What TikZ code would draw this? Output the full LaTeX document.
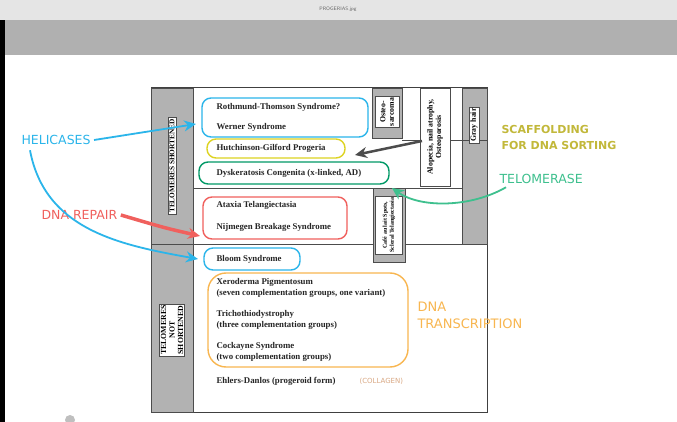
\documentclass[tikz,border=0pt]{standalone}
\usepackage{fontspec}
\setmainfont{Liberation Serif}
\newfontfamily\handfont{DejaVu Sans}
\usetikzlibrary{arrows.meta}
\definecolor{cyanhand}{HTML}{2bb5ea}
\definecolor{redhand}{HTML}{f0605d}
\definecolor{greenhand}{HTML}{3ec08e}
\definecolor{olivehand}{HTML}{c2b83a}
\definecolor{orangehand}{HTML}{f8b650}
\definecolor{colhand}{HTML}{d9a883}
\tikzset{
  pill/.style={draw, line width=1.4pt, rounded corners=9pt},
  txt/.style={font=\bfseries\fontsize{8.8}{10.5}\selectfont, anchor=west, align=left, text=black!85},
  side/.style={fill=black!30, draw=black!70, line width=0.9pt},
  tag/.style={fill=white, draw=black!70, rotate=90, font=\bfseries\fontsize{7.8}{8.5}\selectfont, inner sep=1.5pt, align=center},
  hand/.style={font=\handfont\fontsize{12.5}{14}\selectfont, anchor=west, align=left},
  harrow/.style={line width=1.8pt, -{Stealth[length=12pt,width=11pt]}},
}
\begin{document}
\begin{tikzpicture}[x=1pt, y=-1pt]
\useasboundingbox (0,0) rectangle (677,422);
% window
\fill[white] (0,0) rectangle (677,422);
\fill[black!10] (0,0) rectangle (677,20);
\fill[black!31] (0,20) rectangle (677,55);
\fill[black] (0,20) rectangle (5,422);
\node[font=\sffamily\fontsize{5}{6}\selectfont, text=black!60] (title) at (338,9) {PROGERIAS.jpg};
% frame
\draw[black!75, line width=1pt] (151,88) rectangle (487,412);
\draw[side] (151,88) rectangle (193,244);
\draw[side] (151,244) rectangle (193,412);
\draw[side] (462,88) rectangle (487,244);
\draw[black!70, line width=0.9pt] (193,188) -- (462,188);
\draw[black!70, line width=0.9pt] (193,244) -- (487,244);
\draw[black!70, line width=0.9pt] (402,140) -- (487,140);
\node[tag, font=\bfseries\fontsize{7.3}{8}\selectfont] (short) at (172,166) {TELOMERES SHORTENED};
\node[tag] (notshort) at (172,330) {TELOMERES\\NOT\\SHORTENED};
\node[tag] (gray) at (474,125) {Gray hair};
% symptom boxes
\draw[side] (372,88) rectangle (402,138);
\node[tag, minimum height=24pt] (osteo) at (387,112) {Osteo-\\sarcoma};
\draw[side, fill=white] (420,88) rectangle (450,186);
\node[rotate=90, font=\bfseries\fontsize{7.8}{8.5}\selectfont, align=center] (alop) at (435,137) {Alopecia, nail atrophy,\\Osteoporosis};
\draw[side] (373,188) rectangle (405,262);
\node[tag, minimum height=27pt, font=\bfseries\fontsize{6}{7}\selectfont] (cafe) at (389,225) {Café au lait Spots,\\Scleral Telangiectasia};
% diseases
\draw[pill, cyanhand] (202,98) rectangle (368,137);
\node[txt] (roth) at (213,107) {Rothmund-Thomson Syndrome?};
\node[txt] (wern) at (213,127) {Werner Syndrome};
\draw[pill, yellow!85!black] (207,139) rectangle (345,158);
\node[txt] (hutch) at (213,148.5) {Hutchinson-Gilford Progeria};
\draw[pill, teal!80!green] (199,162) rectangle (389,184);
\node[txt] (dysk) at (213,173) {Dyskeratosis Congenita (x-linked, AD)};
\draw[pill, redhand] (203,197) rectangle (347,239);
\node[txt] (atax) at (213,205) {Ataxia Telangiectasia};
\node[txt] (nijm) at (213,227) {Nijmegen Breakage Syndrome};
\draw[pill, cyanhand] (204,248) rectangle (300,270);
\node[txt] (bloom) at (213,259) {Bloom Syndrome};
\draw[pill, orangehand, rounded corners=18pt] (208,273) rectangle (408,367);
\node[txt] (xero) at (213,288) {Xeroderma Pigmentosum\\(seven complementation groups, one variant)};
\node[txt] (trich) at (213,320) {Trichothiodystrophy\\(three complementation groups)};
\node[txt] (cock) at (213,352) {Cockayne Syndrome\\(two complementation groups)};
\node[txt] (ehl) at (213,381) {Ehlers-Danlos (progeroid form)};
% hand notes
\node[hand, text=colhand, font=\handfont\fontsize{7}{8}\selectfont] (coll) at (356,381) {(COLLAGEN)};
\node[hand, text=cyanhand] (heli) at (18,140) {HELICASES};
\node[hand, text=redhand] (repair) at (38,215) {DNA REPAIR};
\node[hand, text=olivehand, font=\handfont\bfseries\fontsize{11}{16}\selectfont] (scaf) at (498,137) {SCAFFOLDING\\FOR DNA SORTING};
\node[hand, text=greenhand] (telo) at (496,179) {TELOMERASE};
\node[hand, text=orangehand, font=\handfont\fontsize{13}{17}\selectfont] (transc) at (414,315) {DNA\\TRANSCRIPTION};
% arrows
\coordinate (wernTip) at (196,124);
\coordinate (bloomTip) at (198,259);
\coordinate (atTip) at (200,236);
\coordinate (hutchTip) at (355,155);
\coordinate (dyskTip) at (392,188);
\draw[harrow, cyanhand] (heli.east) -- (wernTip);
\draw[harrow, cyanhand] (heli.south west) ++(12,2) .. controls (45,230) and (120,245) .. (bloomTip);
\draw[harrow, redhand, line width=3.5pt] (repair.east) .. controls (165,228) .. (atTip);
\draw[harrow, black!70, line width=2.5pt] (422,141) -- (hutchTip);
\draw[harrow, greenhand] (telo.south west) ++(10,0) .. controls (470,208) and (420,208) .. (dyskTip);
\draw[fill=black!25, draw=none] (70,420) circle (5);
\end{tikzpicture}
\end{document}
